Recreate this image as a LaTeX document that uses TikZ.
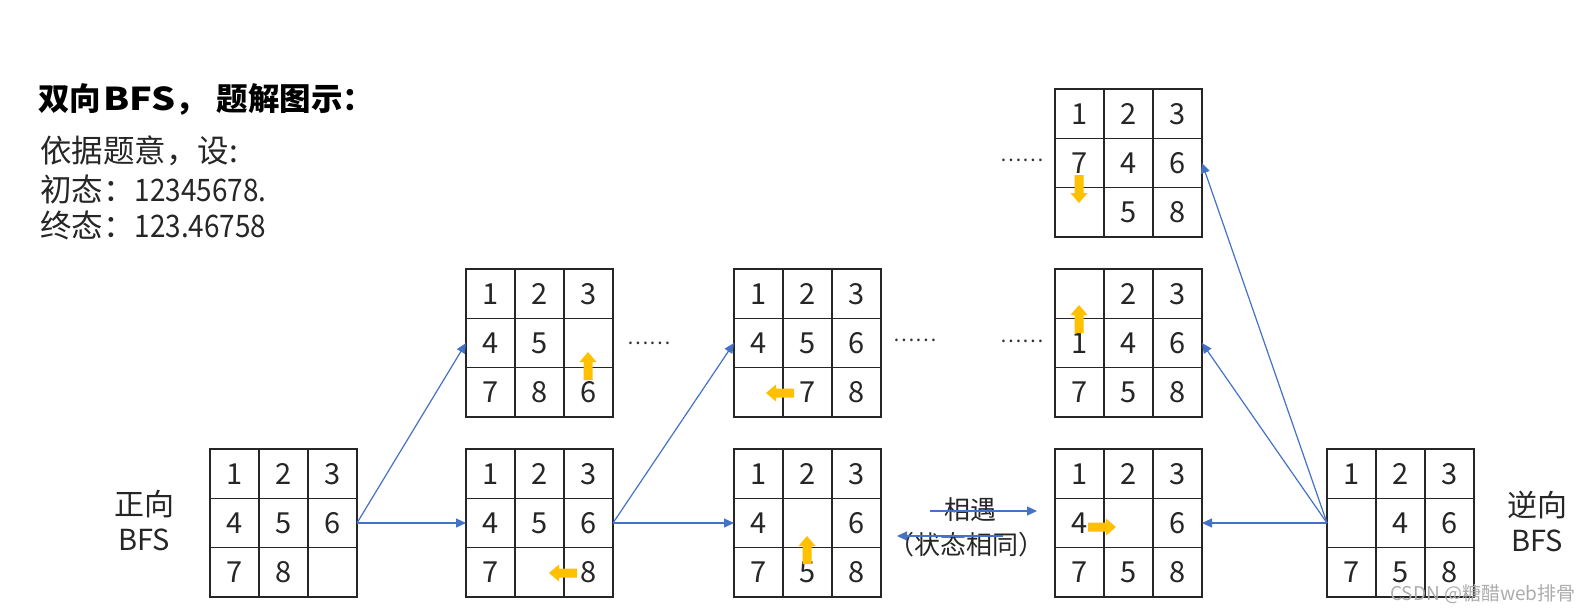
\documentclass[tikz,border=0pt]{standalone}
\usepackage{fontspec}
\setmainfont{Noto Sans CJK SC}
\newfontfamily\numfont{Noto Sans CJK SC}[FakeStretch=0.9]
\usetikzlibrary{arrows.meta,calc}
\definecolor{bluearr}{HTML}{4472C4}
\definecolor{orangearr}{HTML}{FFC000}
\definecolor{gridc}{HTML}{262626}
\tikzset{
  gridbox/.style={draw=gridc, line width=1.4pt, minimum width=147pt, minimum height=148pt, inner sep=0pt, outer sep=0pt},
  gridline/.style={draw=gridc, line width=1.4pt},
  digit/.style={font=\fontsize{29}{30}\selectfont, text=black!85, inner sep=0pt},
  conn/.style={draw=bluearr, line width=1.2pt, -{Triangle[length=10pt,width=9pt]}},
  movefill/.style={fill=orangearr},
  sidelabel/.style={font=\fontsize{30}{35}\selectfont, text=black!85, align=center, inner sep=0pt},
  bodytext/.style={font=\fontsize{31.5}{32}\selectfont, text=black!85, anchor=west, inner sep=0pt},
  dotstext/.style={font=\fontsize{20}{20}\selectfont, text=black!80, inner sep=0pt},
  meettext/.style={font=\fontsize{26}{26}\selectfont, text=black!85, inner sep=0pt}
}
\newcommand\puzzle[4]{%
  \node[gridbox, anchor=north west] (#1) at (#2,#3) {};
  \foreach \k in {1,2}{
    \draw[gridline] (#2+\k*49,#3) -- ++(0,148);
    \draw[gridline] (#2,#3+\k*49.33) -- ++(147,0);
  }
  \foreach \v [count=\i from 0] in {#4}{
    \pgfmathtruncatemacro\pcol{mod(\i,3)}
    \pgfmathtruncatemacro\prow{div(\i,3)}
    \node[digit] (#1-\i) at (#2+24.5+\pcol*49, #3+24.7+\prow*49.33) {\v};
  }
}
\newcommand\movearrow[3]{%
  \fill[movefill, shift={(#1,#2)}, rotate=#3] (0,-4.5) -- (18,-4.5) -- (18,-8.5) -- (28,0) -- (18,8.5) -- (18,4.5) -- (0,4.5) -- cycle;
}
\newcommand\nums[1]{{\numfont\fontsize{31}{32}\selectfont #1}}
\begin{document}
\begin{tikzpicture}[x=1pt,y=-1pt]
\fill[white] (0,0) rectangle (1591,613);
\useasboundingbox (0,0) rectangle (1591,613);

% texts
\node[font=\bfseries\fontsize{31.5}{32}\selectfont, text=black, anchor=west, inner sep=0pt] (title) at (38,99) {双向{\addfontfeature{FakeStretch=1.2}\hspace{2pt}BFS}，\hspace{10pt}题解图示：};
\node[bodytext] (l1) at (40,151) {依据题意，设:};
\node[bodytext] (l2) at (40,189) {初态：\nums{12345678.}};
\node[bodytext] (l3) at (40,225) {终态：\nums{123.46758}};

\node[sidelabel] (fwd) at (144,521) {正向\\\fontsize{29}{35}\selectfont BFS};
\node[sidelabel] (bwd) at (1537,521) {逆向\\\fontsize{29}{35}\selectfont BFS};

% grids
\puzzle{g1}{210}{449}{1,2,3,4,5,6,7,8,{}}
\puzzle{g2t}{466}{269}{1,2,3,4,5,{},7,8,6}
\puzzle{g2b}{466}{449}{1,2,3,4,5,6,7,{},8}
\puzzle{g3t}{734}{269}{1,2,3,4,5,6,{},7,8}
\puzzle{g3b}{734}{449}{1,2,3,4,{},6,7,5,8}
\puzzle{g4t}{1055}{89}{1,2,3,7,4,6,{},5,8}
\puzzle{g4m}{1055}{269}{{},2,3,1,4,6,7,5,8}
\puzzle{g4b}{1055}{449}{1,2,3,4,{},6,7,5,8}
\puzzle{g5}{1327}{449}{1,2,3,{},4,6,7,5,8}

% dots
\node[dotstext] (d1) at (649,343) {……};
\node[dotstext] (d2) at (915,340) {……};
\node[dotstext] (d3) at (1022,341) {……};
\node[dotstext] (d4) at (1022,160) {……};

% orange move arrows
\movearrow{588}{380}{90}
\movearrow{577}{573}{180}
\movearrow{794}{393}{180}
\movearrow{807}{564}{90}
\movearrow{1079}{175}{-90}
\movearrow{1079}{333}{90}
\movearrow{1088}{527}{0}

% connectors
\draw[conn] (g1.east) -- (g2t.west);
\draw[conn] (g1.east) -- (g2b.west);
\draw[conn] (g2b.east) -- (g3t.west);
\draw[conn] (g2b.east) -- (g3b.west);
\draw[conn] (g5.west) -- (g4b.east);
\draw[conn] (g5.west) -- (g4m.east);
\draw[conn] (g5.west) -- (g4t.east);

% meet
\node[meettext] (meet) at (970,510) {相遇};
\node[meettext] (same) at (966,545) {（状态相同）};
\coordinate (m1s) at (930,511);
\coordinate (m1e) at (1037,511);
\coordinate (m2s) at (1003,536);
\coordinate (m2e) at (897,536);
\draw[conn] (m1s) -- (m1e);
\draw[conn] (m2s) -- (m2e);

% watermark
\node[font=\fontsize{19}{19}\selectfont, text=gray!65, anchor=west, inner sep=0pt] (wm) at (1390,594) {CSDN @糖醋web排骨};
\end{tikzpicture}
\end{document}
